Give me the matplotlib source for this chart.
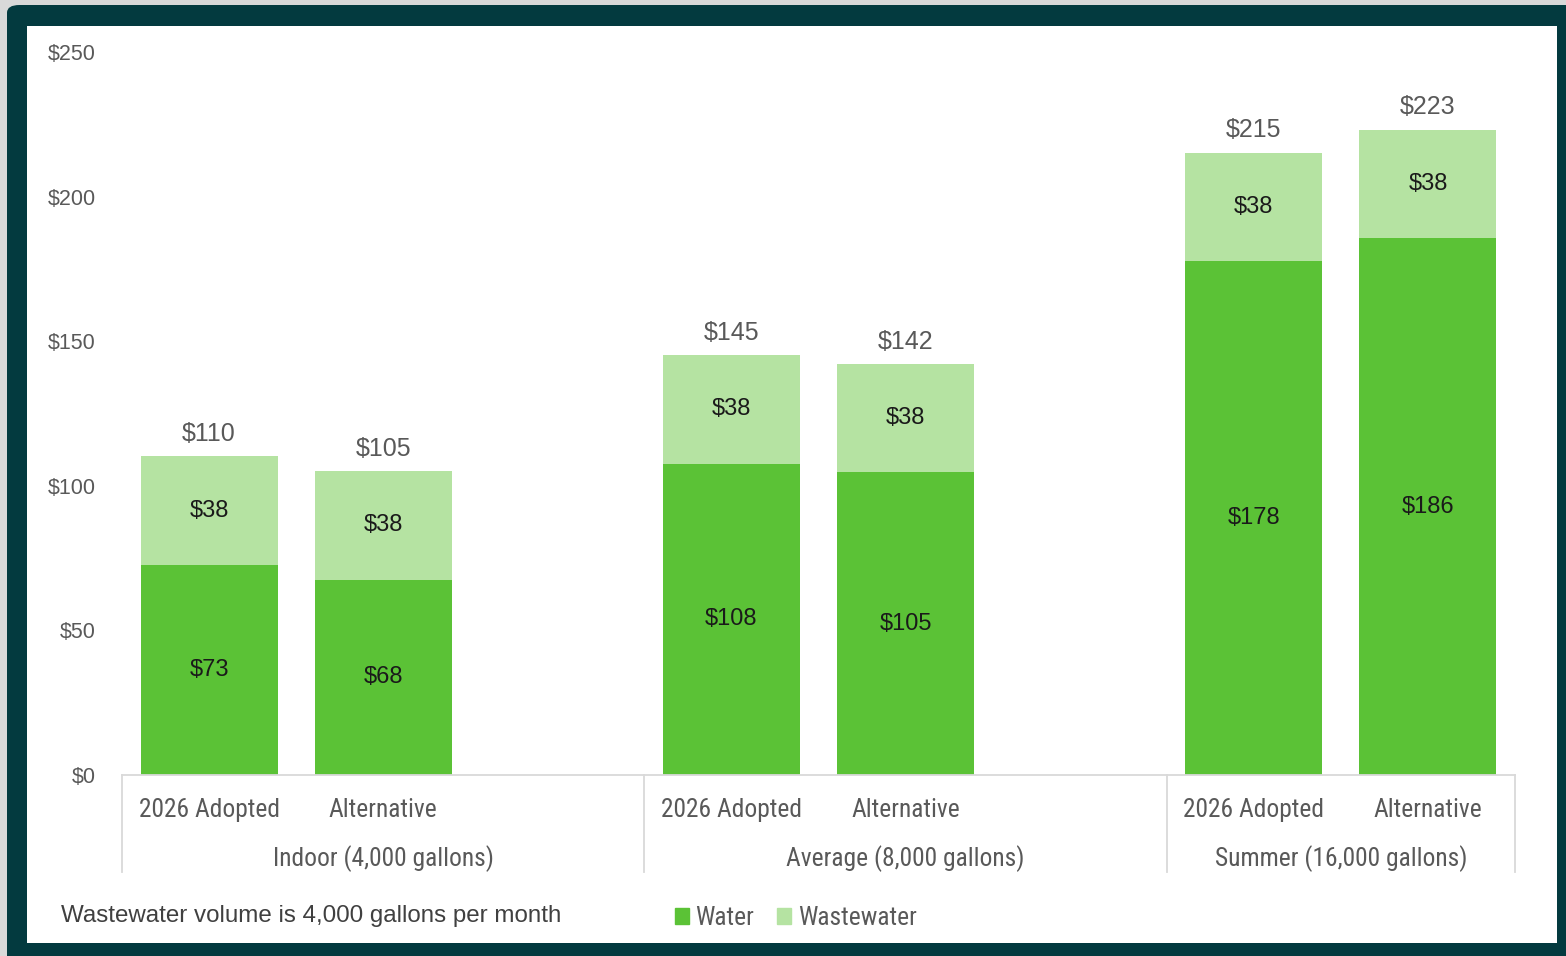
import matplotlib
matplotlib.use('Agg')
import matplotlib.pyplot as plt
from matplotlib.patches import FancyBboxPatch, Rectangle, Patch
from matplotlib.transforms import blended_transform_factory

# ------------------------------------------
# data
# ------------------------------------------
groups = ['Indoor (4,000 gallons)', 'Average (8,000 gallons)', 'Summer (16,000 gallons)']
scenarios = ['2026 Adopted', 'Alternative']
water = [72.6, 67.6, 107.6, 104.6, 177.6, 185.6]
wastewater = [37.6, 37.6, 37.6, 37.6, 37.6, 37.6]
yticks = [0, 50, 100, 150, 200, 250]
note = 'Wastewater volume is 4,000 gallons per month'

# ------------------------------------------
# styling
# ------------------------------------------
W, H = 1566, 956
C_WATER = '#5bc236'
C_WW = '#b5e3a2'
C_FRAME = '#033a3f'
C_GRAY = '#595959'
C_LINE = '#d9d9d9'
SANS = ['Liberation Sans', 'DejaVu Sans']
NARROW = ['Roboto Condensed', 'PT Sans Narrow', 'DejaVu Sans']

plt.rcParams['font.family'] = SANS

fig = plt.figure(figsize=(W / 100, H / 100), dpi=100)
fig.patch.set_facecolor('#d9d9d9')

def fx(px):
    return px / W

def fy(py):
    return 1 - py / H

# dark frame + white panel
frame = FancyBboxPatch((fx(7), fy(975)), fx(1600 - 7), fy(5) - fy(975),
                       boxstyle='round,pad=0,rounding_size=0.008',
                       transform=fig.transFigure, facecolor=C_FRAME,
                       edgecolor='none', zorder=0)
fig.patches.append(frame)
panel = Rectangle((fx(27), fy(943)), fx(1557 - 27), fy(26) - fy(943),
                  transform=fig.transFigure, facecolor='white',
                  edgecolor='none', zorder=1)
fig.patches.append(panel)

ax = fig.add_axes([fx(122), fy(775), fx(1515 - 122), fy(52) - fy(775)])
ax.set_facecolor('none')
ax.set_zorder(5)

# bar slots: two per group plus an empty gap slot between groups
xs = []
for g in range(len(groups)):
    for s in range(len(scenarios)):
        xs.append(g * 3 + s)

bw = 0.787
ax.bar(xs, water, width=bw, color=C_WATER, label='Water', zorder=2)
ax.bar(xs, wastewater, width=bw, bottom=water, color=C_WW, label='Wastewater', zorder=2)

for x, w, ww in zip(xs, water, wastewater):
    ax.text(x, w / 2, f'${w:.0f}', ha='center', va='center', fontsize=17, color='#1a1a1a')
    ax.text(x, w + ww / 2, f'${ww:.0f}', ha='center', va='center', fontsize=17, color='#1a1a1a')
    ax.annotate(f'${w + ww:.0f}', (x, w + ww), xytext=(0, 16), textcoords='offset points',
                ha='center', va='center', fontsize=18, color=C_GRAY)

ax.set_xlim(-0.5, 7.5)
ax.set_ylim(0, 250)
ax.set_yticks(yticks)
ax.set_yticklabels([f'${v}' for v in yticks])
ax.tick_params(axis='y', length=0, pad=19, labelsize=15.5, labelcolor=C_GRAY)
ax.set_xticks([])
for side in ['top', 'right', 'left']:
    ax.spines[side].set_visible(False)
ax.spines['bottom'].set_color(C_LINE)
ax.spines['bottom'].set_linewidth(1.3)

# two-level category axis
tr = blended_transform_factory(ax.transData, ax.transAxes)
bounds = [-0.5, 2.5, 5.5, 7.5]
for x in xs:
    ax.text(x, -0.048, scenarios[x % 3], transform=tr, ha='center', va='center',
            fontsize=18.4, color=C_GRAY, family=NARROW)
for g, name in enumerate(groups):
    mid = (bounds[g] + bounds[g + 1]) / 2
    ax.text(mid, -0.116, name, transform=tr, ha='center', va='center',
            fontsize=18.4, color=C_GRAY, family=NARROW)
for xb in bounds:
    ax.plot([xb, xb], [0, -0.134], transform=tr, color=C_LINE, lw=1.3, clip_on=False)

fig.text(fx(61), fy(916), note, ha='left', va='center', fontsize=17.4, color='#404040')

handles = [Patch(color=C_WATER), Patch(color=C_WW)]
fig.legend(handles, ['Water', 'Wastewater'], loc='center left',
           bbox_to_anchor=(fx(675), fy(918)), ncol=2, frameon=False,
           handlelength=0.55, handleheight=0.55, handletextpad=0.25,
           columnspacing=0.9, borderpad=0, borderaxespad=0,
           prop={'family': NARROW, 'size': 18.4}, labelcolor=C_GRAY)

plt.savefig('out.png', dpi=100, facecolor=fig.get_facecolor())
